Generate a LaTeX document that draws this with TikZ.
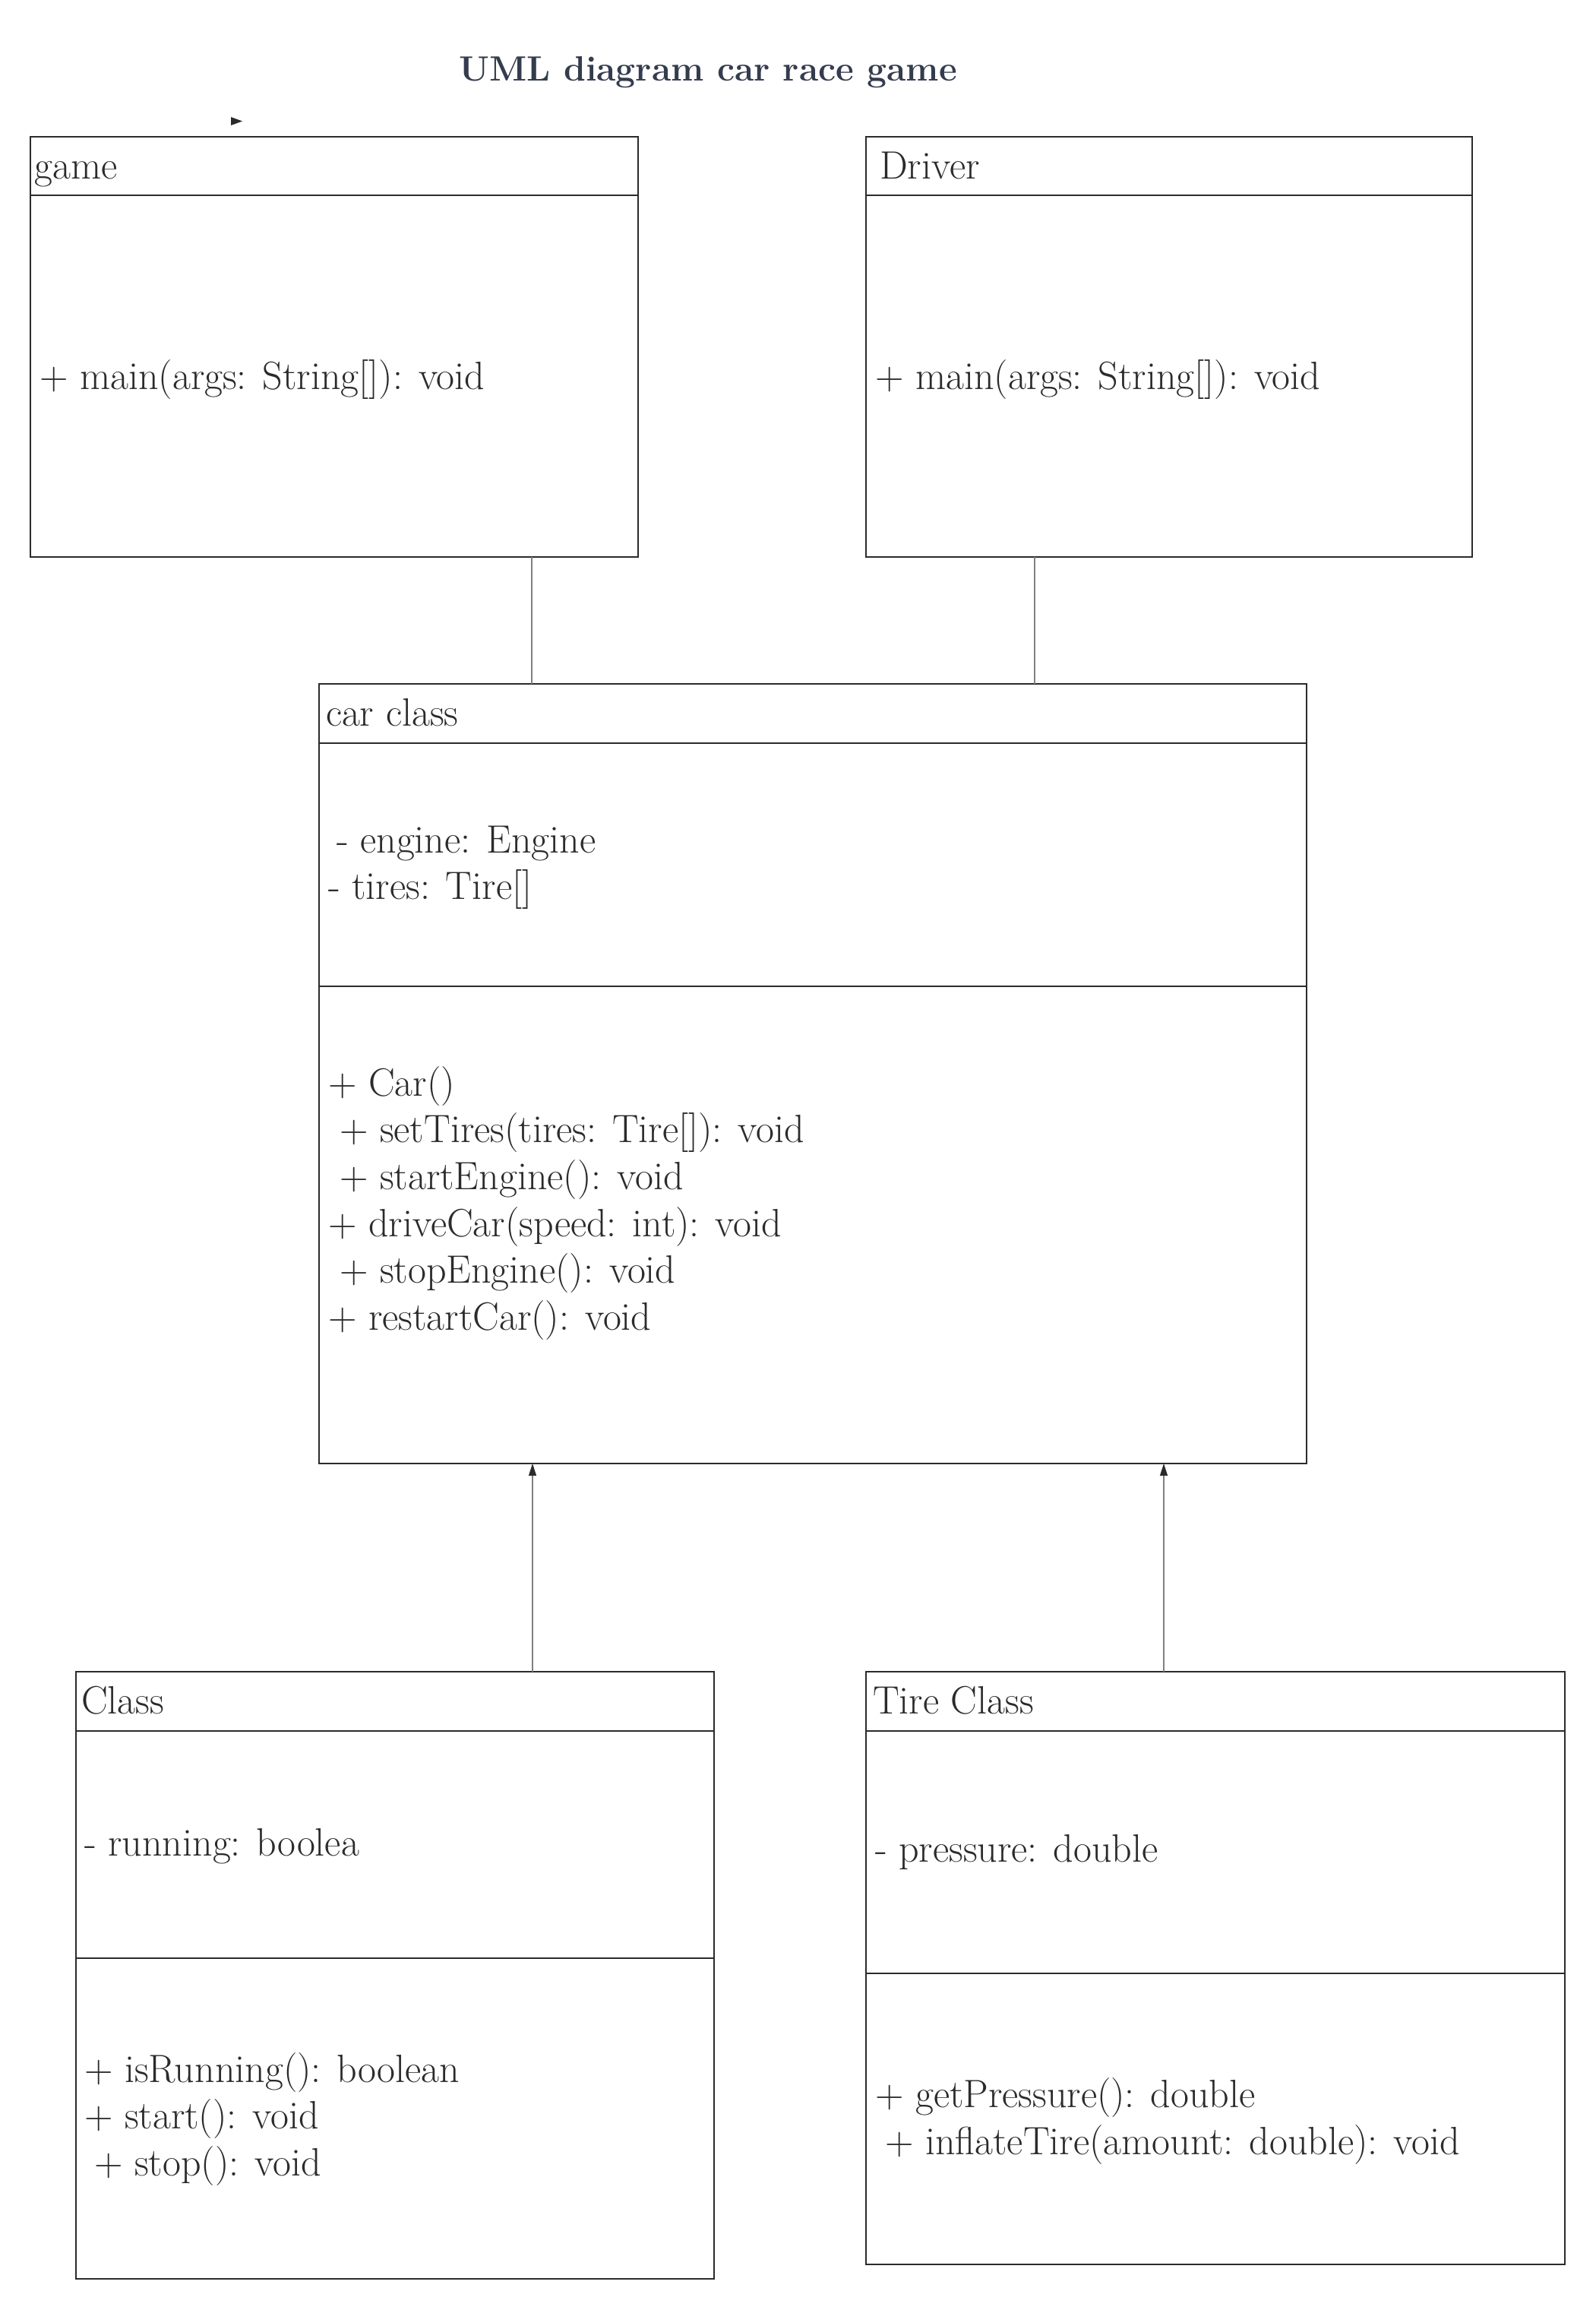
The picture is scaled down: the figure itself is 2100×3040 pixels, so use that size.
\documentclass[tikz,border=0pt]{standalone}
\usetikzlibrary{arrows.meta,calc}
\definecolor{titlecol}{HTML}{343C4E}
\definecolor{ink}{HTML}{2B2B2B}
\definecolor{conn}{HTML}{808080}
\begin{document}
\begin{tikzpicture}[x=0.5pt,y=-0.5pt,
  classbox/.style={draw=ink,line width=1.3pt,rectangle,inner sep=0pt,outer sep=0pt,anchor=north west},
  sepline/.style={draw=ink,line width=1.2pt},
  txt/.style={anchor=base west,inner sep=0pt,outer sep=0pt,text=ink,font=\fontsize{26}{32}\selectfont},
  assoc/.style={draw=conn,line width=0.55pt},
  inh/.style={draw=conn,line width=0.55pt,-{Triangle[length=8pt,width=5pt,color=ink]}}
]
\fill[white] (0,0) rectangle (2100,3040);
\useasboundingbox (0,0) rectangle (2100,3040);

% title
\node[anchor=base west,inner sep=0pt,text=titlecol,font=\fontsize{23.1}{28}\selectfont\bfseries] (title) at (604,107) {UML diagram car race game};
% stray small arrowhead
\fill[ink] (304,154) -- (319,159.5) -- (304,165) -- cycle;

% boxes
\node[classbox,minimum width=400pt,minimum height=276.5pt] (game) at (40,180) {};
\node[classbox,minimum width=399pt,minimum height=276.5pt] (driver) at (1140,180) {};
\node[classbox,minimum width=650pt,minimum height=513pt] (car) at (420,900) {};
\node[classbox,minimum width=420pt,minimum height=399.5pt] (cls) at (100,2200) {};
\node[classbox,minimum width=460pt,minimum height=390pt] (tire) at (1140,2200) {};

% compartment lines
\draw[sepline] ([yshift=-38.5pt]game.north west) -- ([yshift=-38.5pt]game.north east);
\draw[sepline] ([yshift=-38.5pt]driver.north west) -- ([yshift=-38.5pt]driver.north east);
\draw[sepline] ([yshift=-39pt]car.north west) -- ([yshift=-39pt]car.north east);
\draw[sepline] ([yshift=-199pt]car.north west) -- ([yshift=-199pt]car.north east);
\draw[sepline] ([yshift=-39pt]cls.north west) -- ([yshift=-39pt]cls.north east);
\draw[sepline] ([yshift=-188.5pt]cls.north west) -- ([yshift=-188.5pt]cls.north east);
\draw[sepline] ([yshift=-39pt]tire.north west) -- ([yshift=-39pt]tire.north east);
\draw[sepline] ([yshift=-198.5pt]tire.north west) -- ([yshift=-198.5pt]tire.north east);

% texts: game
\node[txt] (gameT) at (46,235) {game};
\node[txt] (gameM) at (52,512) {+ main(args: String[]): void};
% driver
\node[txt] (driverT) at (1158,235) {Driver};
\node[txt] (driverM) at (1152,512) {+ main(args: String[]): void};
% car
\node[txt] (carT) at (429,955) {car class};
\node[txt] (carA1) at (443,1122) {- engine: Engine};
\node[txt] (carA2) at (432,1183) {- tires: Tire[]};
\node[txt] (carM1) at (432,1442) {+ Car()};
\node[txt] (carM2) at (447,1503) {+ setTires(tires: Tire[]): void};
\node[txt] (carM3) at (447,1565) {+ startEngine(): void};
\node[txt] (carM4) at (432,1627) {+ driveCar(speed: int): void};
\node[txt] (carM5) at (447,1688) {+ stopEngine(): void};
\node[txt] (carM6) at (432,1750) {+ restartCar(): void};
% class
\node[txt] (clsT) at (107,2255) {Class};
\node[txt] (clsA) at (111,2442) {- running: boolea};
\node[txt] (clsM1) at (111,2740) {+ isRunning(): boolean};
\node[txt] (clsM2) at (111,2801) {+ start(): void};
\node[txt] (clsM3) at (124,2863) {+ stop(): void};
% tire
\node[txt] (tireT) at (1149,2255) {Tire Class};
\node[txt] (tireA) at (1152,2450) {- pressure: double};
\node[txt] (tireM1) at (1152,2773) {+ getPressure(): double};
\node[txt] (tireM2) at (1165,2835) {+ inflateTire(amount: double): void};

% connectors
\draw[assoc] ([xshift=130pt]game.south) -- ([xshift=130pt]game.south |- car.north);
\draw[assoc] ([xshift=-88.5pt]driver.south) -- ([xshift=-88.5pt]driver.south |- car.north);
\draw[inh] ([xshift=90.5pt]cls.north) -- ([xshift=90.5pt]cls.north |- car.south);
\draw[inh] ([xshift=-34pt]tire.north) -- ([xshift=-34pt]tire.north |- car.south);
\end{tikzpicture}
\end{document}
